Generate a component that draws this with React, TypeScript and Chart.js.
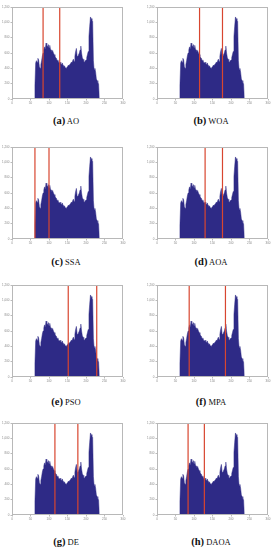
import React, { useEffect, useRef } from 'react';
import { Chart, registerables } from 'chart.js';
Chart.register(...registerables);

// Histogram of grey levels (bin centre, pixel count)
const grayLevels = [60, 62, 64, 66, 68, 70, 72, 74, 76, 78, 80, 82, 84, 86, 88, 90, 92, 94, 96, 98,
  100, 102, 104, 106, 108, 110, 112, 114, 116, 118, 120, 122, 124, 126, 128, 130, 132, 134, 136, 138,
  140, 142, 144, 146, 148, 150, 152, 154, 156, 158, 160, 162, 164, 166, 168, 170, 172, 174, 176, 178,
  180, 182, 184, 186, 188, 190, 192, 194, 196, 198, 200, 202, 204, 206, 208, 210, 212, 214, 216, 218,
  220, 222, 224, 226, 228, 230, 232, 234, 236];
const counts = [0, 180, 470, 500, 480, 530, 510, 420, 400, 450, 500, 560, 600, 640, 680, 650, 730, 700, 680, 710,
  670, 700, 650, 640, 610, 630, 600, 580, 560, 540, 530, 500, 510, 480, 470, 480, 460, 450, 470, 440,
  420, 430, 410, 400, 410, 420, 440, 430, 450, 460, 480, 470, 500, 520, 490, 560, 620, 660, 560, 550,
  580, 600, 640, 690, 600, 540, 520, 490, 480, 500, 510, 540, 580, 620, 820, 950, 1070, 1050, 1030, 1010,
  500, 380, 400, 350, 260, 240, 210, 200, 0];

const xTicks = [0, 50, 100, 150, 200, 250, 300];
const yTicks = [0, 200, 400, 600, 800, 1000, 1200];

const panelLetters = ['a', 'b', 'c', 'd', 'e', 'f', 'g', 'h'];
const panelNames = ['AO', 'WOA', 'SSA', 'AOA', 'PSO', 'MPA', 'DE', 'DAOA'];
const thresholdLow = [84, 115, 62, 130, 152, 87, 116, 84];
const thresholdHigh = [129, 177, 100, 177, 229, 185, 178, 128];

// layout
const colLeft = [12, 157];
const rowTop = [7, 147, 285, 423];
const captionY = [121, 262, 402, 542];
const colCenter = [66, 211];
const plotW = 111;
const plotH = 92;
const yAxisW = 12;
const xAxisH = 8;
const padTop = 4;
const padRight = 6;

const fillColor = '#2e2a86';
const lineColor = '#d8462f';

const framePlugin = {
  id: 'frame',
  afterDraw(chart: any) {
    const { ctx, chartArea } = chart;
    ctx.save();
    ctx.strokeStyle = '#b8b8b8';
    ctx.lineWidth = 1;
    ctx.strokeRect(Math.round(chartArea.left) + 0.5, Math.round(chartArea.top) + 0.5,
      Math.round(chartArea.right - chartArea.left) - 1, Math.round(chartArea.bottom - chartArea.top) - 1);
    ctx.restore();
  },
};

function Panel({ idx }: { idx: number }) {
  const ref = useRef<HTMLCanvasElement>(null);
  useEffect(() => {
    const canvas = ref.current!;
    const hist = grayLevels.map((g, i) => ({ x: g, y: counts[i] }));
    const t1 = thresholdLow[idx];
    const t2 = thresholdHigh[idx];
    const chart = new Chart(canvas, {
      type: 'line',
      data: {
        datasets: [
          {
            data: [{ x: t1, y: 0 }, { x: t1, y: 1200 }],
            borderColor: lineColor,
            borderWidth: 1.2,
            pointRadius: 0,
            fill: false,
            order: 0,
          },
          {
            data: [{ x: t2, y: 0 }, { x: t2, y: 1200 }],
            borderColor: lineColor,
            borderWidth: 1.2,
            pointRadius: 0,
            fill: false,
            order: 0,
          },
          {
            data: hist,
            borderColor: fillColor,
            backgroundColor: fillColor,
            borderWidth: 0.5,
            pointRadius: 0,
            tension: 0,
            fill: 'origin',
            order: 1,
          },
        ],
      },
      options: {
        responsive: false,
        animation: false,
        devicePixelRatio: 1,
        layout: { padding: { top: padTop, right: padRight, left: 0, bottom: 0 } },
        plugins: { legend: { display: false }, tooltip: { enabled: false } },
        scales: {
          x: {
            type: 'linear',
            min: 0,
            max: 300,
            afterBuildTicks: (s: any) => { s.ticks = xTicks.map((v) => ({ value: v })); },
            afterFit: (s: any) => { s.height = xAxisH; },
            ticks: { font: { size: 3 }, color: '#888', padding: 1, autoSkip: false, maxRotation: 0 },
            grid: { display: true, drawOnChartArea: false, tickLength: 1.5, color: '#bbb' },
            border: { display: false },
          },
          y: {
            type: 'linear',
            min: 0,
            max: 1200,
            afterBuildTicks: (s: any) => { s.ticks = yTicks.map((v) => ({ value: v })); },
            afterFit: (s: any) => { s.width = yAxisW; },
            ticks: { font: { size: 3 }, color: '#888', padding: 1, autoSkip: false },
            grid: { display: true, drawOnChartArea: false, tickLength: 1.5, color: '#bbb' },
            border: { display: false },
          },
        },
      },
      plugins: [framePlugin],
    });
    return () => chart.destroy();
  }, [idx]);

  const col = idx % 2;
  const row = Math.floor(idx / 2);
  const left = colLeft[col] - yAxisW;
  const top = rowTop[row] - padTop;
  const w = plotW + yAxisW + padRight;
  const h = plotH + padTop + xAxisH;
  return (
    <>
      <canvas ref={ref} width={w} height={h}
        style={{ position: 'absolute', left, top, width: w, height: h }} />
      <div style={{
        position: 'absolute', left: colCenter[col] - 50, width: 100, top: captionY[row] - 7,
        textAlign: 'center', fontFamily: '"Liberation Serif", "DejaVu Serif", serif', fontSize: 10,
        color: '#111', lineHeight: '14px', whiteSpace: 'nowrap',
      }}>
        <b style={{ fontSize: 10.5 }}>({panelLetters[idx]})</b>
        <span style={{ fontSize: 8.5, fontWeight: 'normal' }}>{' '}{panelNames[idx]}</span>
      </div>
    </>
  );
}

export default function App() {
  return (
    <div style={{ position: 'absolute', left: 0, top: 0, width: 275, height: 550, background: '#fff' }}>
      {panelLetters.map((_, i) => <Panel key={i} idx={i} />)}
    </div>
  );
}
